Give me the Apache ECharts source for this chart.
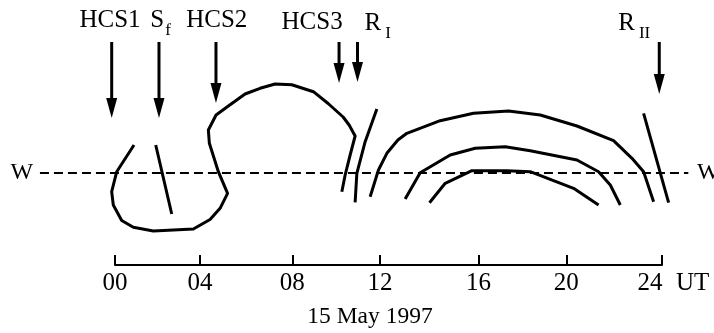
<!DOCTYPE html>
<html>
<head>
<meta charset="utf-8">
<script src="https://cdn.jsdelivr.net/npm/echarts@6/dist/echarts.min.js"></script>
<style>
html,body{margin:0;padding:0;background:#fff;}
#chart{width:714px;height:333px;}
</style>
</head>
<body>
<div id="chart"></div>
<script>
// ---- data (x in hours of UT as placed on the drawn axis, y in arbitrary units, W line = 0) ----
const tickPos = [0, 3.73, 7.78, 11.63, 15.95, 19.80, 24];
const tickLabels = ['00', '04', '08', '12', '16', '20', '24'];

const curveS = [[0.834,1.40],[0.075,0.065],[-0.145,-0.935],[-0.075,-1.6],[0.294,-2.375],[0.803,-2.715],[1.681,-2.9],[2.559,-2.85],[3.437,-2.8],[4.171,-2.325],[4.61,-1.765],[4.939,-1.015],[4.535,0.065],[4.14,1.485],[4.096,2.15],[4.434,2.9],[4.974,3.35],[5.707,3.95],[6.366,4.235],[7.024,4.45],[7.757,4.415],[8.705,4.065],[9.351,3.475],[10.009,2.8],[10.273,2.4],[10.536,1.85],[10.317,0.9],[10.098,-0.1],[9.952,-0.935]];
const sfLine = [[1.787,1.4],[2.489,-2.05]];
const riLine = [[11.489,3.2],[10.976,1.565],[10.611,-0.015],[10.536,-1.465]];
const outerArch = [[11.195,-1.185],[11.559,0.15],[11.928,0.985],[12.411,1.65],[12.806,1.985],[14.267,2.615],[15.73,2.985],[17.266,3.1],[18.658,2.9],[20.269,2.35],[21.875,1.615],[22.683,0.735],[23.193,0.065],[23.632,-1.435]];
const middleArch = [[12.731,-1.3],[13.39,0.015],[14.707,0.9],[15.804,1.235],[17.121,1.315],[18.218,1.115],[20.269,0.65],[21.217,0.065],[21.731,-0.6],[22.17,-1.6]];
const innerArch = [[13.798,-1.485],[14.487,-0.515],[15.659,0.115],[17.196,0.115],[18.218,0.065],[20.12,-0.765],[21.217,-1.6]];
const riiLine = [[23.193,2.985],[24.29,-1.485]];
const wLine = [[-3.293,0],[25.155,0]];

const arrowX = [-0.145, 1.93, 4.43, 9.83, 10.64, 23.88];
const arrowTop = [6.55, 6.55, 6.55, 6.55, 6.55, 6.55];
const arrowTip = [2.75, 2.75, 3.5, 4.5, 4.55, 3.95];

const markNames = ['HCS1', 'S', 'HCS2', 'HCS3', 'R', 'R'];
const markSubs  = ['', 'f', '', '', 'I', 'II'];
const markLabelX = [-0.219, 2.0, 4.465, 8.648, 11.524, 22.784];
const markLabelY = [7.65, 7.475, 7.65, 7.55, 7.325, 7.325];

const wLabels = ['W', 'W'];
const wLabelX = [-4.083, 26.03];
const wLabelY = [0, 0];

const dateLabel = '15 May 1997';
const unitLabel = 'UT';

// ---- chart ----
const FONT = '"Liberation Serif","Times New Roman",serif';
const chart = echarts.init(document.getElementById('chart'), null, {renderer: 'canvas'});

// hour -> full-width scale so that 0 h and 24 h fall on the visible axis ends
const PX_PER_H = (714 - 115 - 52) / 24;
const fullMin = -115 / PX_PER_H;
const fullMax = 24 + 52 / PX_PER_H;

function curve(data) {
  return {
    type: 'line', data: data, symbol: 'none', silent: true, xAxisIndex: 0, yAxisIndex: 0,
    lineStyle: {color: '#000', width: 3, join: 'round', cap: 'butt'}
  };
}

function textSeries(xs, ys, texts, fontSize) {
  return {
    type: 'custom', xAxisIndex: 0, yAxisIndex: 0, silent: true,
    data: xs.map((x, i) => [x, ys[i]]),
    encode: {x: 0, y: 1},
    renderItem: function (params, api) {
      const p = api.coord([api.value(0), api.value(1)]);
      return {
        type: 'text', x: p[0], y: p[1],
        style: {
          text: texts[params.dataIndex], fill: '#000',
          font: fontSize + 'px ' + FONT, align: 'center', verticalAlign: 'middle',
          rich: {
            m: {fill: '#000', fontSize: fontSize, fontFamily: FONT, verticalAlign: 'bottom', padding: [0, 0, 7, 0]},
            s: {fill: '#000', fontSize: 17, fontFamily: FONT, verticalAlign: 'bottom', padding: [0, 0, 0, 4]},
            t: {fill: '#000', fontSize: 17, fontFamily: FONT, verticalAlign: 'bottom', padding: [0, 0, 0, 1]}
          }
        }
      };
    }
  };
}

const markTexts = markNames.map((n, i) =>
  markSubs[i] ? '{m|' + n + '}{' + (markSubs[i] === 'f' ? 't' : 's') + '|' + markSubs[i] + '}' : n);
const arrowData = arrowX.map((x, i) => [x, arrowTop[i], arrowTip[i]]);

const option = {
  backgroundColor: '#fff',
  animation: false,
  grid: [
    {left: 0, right: 0, top: 0, bottom: 68},
    {left: 115, right: 52, top: 0, bottom: 68}
  ],
  xAxis: [
    {gridIndex: 0, type: 'value', min: fullMin, max: fullMax, show: false},
    {
      gridIndex: 1, type: 'value', min: 0, max: 24,
      name: unitLabel, nameLocation: 'end', nameGap: 14,
      nameTextStyle: {fontFamily: FONT, fontSize: 25, color: '#000', verticalAlign: 'top', padding: [6, 0, 0, 0]},
      axisLine: {show: true, onZero: false, lineStyle: {color: '#000', width: 2}},
      axisTick: {show: true, inside: true, length: 10, customValues: tickPos, lineStyle: {color: '#000', width: 2}},
      axisLabel: {
        customValues: tickPos, margin: 6, fontFamily: FONT, fontSize: 25, color: '#000',
        formatter: function (v) {
          const i = tickPos.indexOf(v);
          const t = i >= 0 ? tickLabels[i] : '';
          return i === tickPos.length - 1 ? '{e|' + t + '}' : t;
        },
        rich: {e: {fontFamily: FONT, fontSize: 25, color: '#000', padding: [0, 24, 0, 0]}}
      },
      splitLine: {show: false}
    }
  ],
  yAxis: [
    {gridIndex: 0, type: 'value', min: -4.6, max: 8.65, show: false},
    {gridIndex: 1, type: 'value', min: -4.6, max: 8.65, show: false}
  ],
  graphic: [{
    type: 'text', x: 370, y: 317,
    style: {text: dateLabel, font: '23.5px ' + FONT, fill: '#000', align: 'center', verticalAlign: 'middle'}
  }],
  series: [
    {
      type: 'line', data: wLine, symbol: 'none', silent: true, xAxisIndex: 0, yAxisIndex: 0,
      lineStyle: {color: '#000', width: 2, type: [9, 5]}
    },
    curve(curveS), curve(sfLine), curve(riLine), curve(outerArch),
    curve(middleArch), curve(innerArch), curve(riiLine),
    {
      type: 'custom', data: arrowData, silent: true, xAxisIndex: 0, yAxisIndex: 0,
      encode: {x: 0, y: [1, 2]},
      renderItem: function (params, api) {
        const p1 = api.coord([api.value(0), api.value(1)]);
        const p2 = api.coord([api.value(0), api.value(2)]);
        const hl = 20, hw = 5.5;
        return {
          type: 'group',
          children: [
            {type: 'line', shape: {x1: p1[0], y1: p1[1], x2: p2[0], y2: p2[1] - hl + 2},
             style: {stroke: '#000', lineWidth: 3}},
            {type: 'polygon', shape: {points: [[p2[0] - hw, p2[1] - hl], [p2[0] + hw, p2[1] - hl], [p2[0], p2[1]]]},
             style: {fill: '#000'}}
          ]
        };
      }
    },
    textSeries(markLabelX, markLabelY, markTexts, 25),
    textSeries(wLabelX, wLabelY, wLabels, 24)
  ]
};
chart.setOption(option);
</script>
</body>
</html>
